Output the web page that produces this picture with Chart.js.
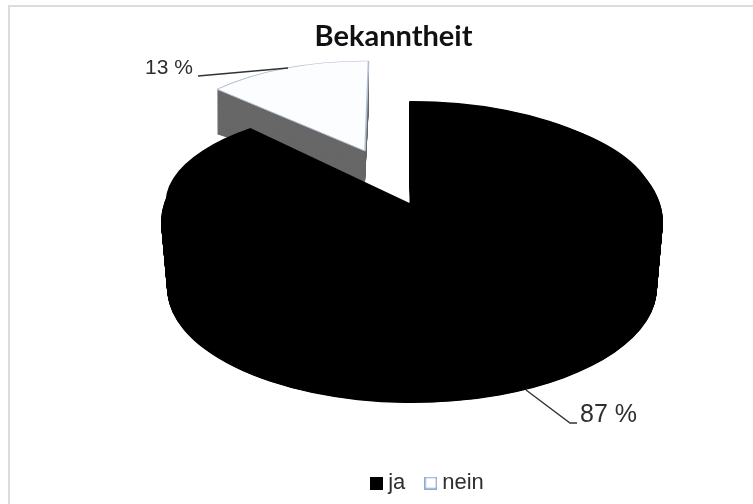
<!DOCTYPE html>
<html>
<head>
<meta charset="utf-8">
<style>
html,body{margin:0;padding:0;background:#fff;width:753px;height:504px;overflow:hidden}
#frame{position:absolute;left:8px;top:5px;right:0;bottom:0;border-left:2px solid #dcdcdc;border-top:2px solid #dcdcdc}
canvas{position:absolute;left:0;top:0}
</style>
<script src="https://cdn.jsdelivr.net/npm/chart.js@4/dist/chart.umd.min.js"></script>
</head>
<body>
<div id="frame"></div>
<canvas id="c" width="753" height="504"></canvas>
<script>
const categories = ['ja', 'nein'];
const shares = [87, 13];
const chartTitle = 'Bekanntheit';
const sliceFill = ['#000000', '#fcfdfe'];
const sliceEdge = ['#000000', '#b3bfd3'];
const neinSide = '#686868';
const legendEdge = '#8fa9cf';
const textColor = '#2e2e2e';

// Look of the tilted pie: the reference has perspective, so the top and bottom
// outlines of the main slice are different ellipses and the apex sits above their centre.
const view = {
  radius: 250,
  mainTop: { x: 412, y: 222, sx: 1.004, sy: 0.484 },
  mainBottom: { x: 412, y: 288, sx: 0.98, sy: 0.46 },
  mainTilt: -0.6,
  mainApex: { y: 203, sx: 0.976, sy: 0.396 },
  // detached slice sits further back, so it is drawn a little smaller
  nein: { x: 365, y: 151, sx: 0.813, sy: 0.36, tilt: -6, sideDepth: 31, sideSy: 0.278 }
};
// Leader lines: from the slice to the label.
const leaders = [
  { points: [[526, 390], [570, 423], [577, 423]], textX: 580, textY: 415, size: 25 },
  { points: [[288, 68], [198, 76]], textX: 145, textY: 68, size: 21 }
];

function swatch(fill, edge) {
  const s = document.createElement('canvas');
  s.width = 13; s.height = 13;
  const g = s.getContext('2d');
  g.fillStyle = fill; g.fillRect(0, 0, 13, 13);
  if (edge) { g.strokeStyle = edge; g.lineWidth = 1.5; g.strokeRect(0.75, 0.75, 11.5, 11.5); }
  return s;
}
const swatches = [swatch(sliceFill[0]), swatch('#fff', legendEdge)];

const tiltedPie = {
  id: 'tiltedPie',
  afterLayout(chart) {
    chart.titleBlock.left -= 16; chart.titleBlock.right -= 16;
    chart.legend.left += 20.5; chart.legend.right += 20.5;
  },
  beforeDatasetsDraw(chart) {
    const ctx = chart.ctx;
    const [ja, nein] = chart.getDatasetMeta(0).data;
    const n = view.nein;
    const base = nein.options;
    const sideStyle = Object.assign({}, base, { backgroundColor: neinSide, borderWidth: 0 });

    // detached slice: side wall, then top face
    const steps = n.sideDepth * 3;
    for (let i = steps; i >= 0; i--) {
      const f = i / steps;
      ctx.save();
      ctx.translate(n.x, n.y + n.sideDepth * f);
      ctx.scale(n.sx, n.sy + (n.sideSy - n.sy) * f);
      ctx.rotate(n.tilt * Math.PI / 180);
      ctx.translate(-nein.x, -nein.y);
      nein.options = i === 0 ? base : sideStyle;
      nein.draw(ctx);
      ctx.restore();
    }
    nein.options = base;

    // main slice: extruded between its bottom and top outlines
    const a = view.mainBottom, b = view.mainTop;
    const layers = (a.y - b.y) * 2;
    for (let i = 0; i <= layers; i++) {
      const f = i / layers;
      ctx.save();
      ctx.translate(a.x + (b.x - a.x) * f, a.y + (b.y - a.y) * f);
      ctx.scale(a.sx + (b.sx - a.sx) * f, a.sy + (b.sy - a.sy) * f);
      ctx.rotate(view.mainTilt * Math.PI / 180);
      ctx.translate(-ja.x, -ja.y);
      ja.draw(ctx);
      ctx.restore();
    }
    // apex of the top face
    ctx.save();
    ctx.translate(ja.x, view.mainApex.y);
    ctx.scale(view.mainApex.sx, view.mainApex.sy);
    ctx.translate(-ja.x, -ja.y);
    ja.draw(ctx);
    ctx.restore();
    return false;
  },
  afterDraw(chart) {
    const ctx = chart.ctx;
    ctx.save();
    ctx.strokeStyle = '#333';
    ctx.lineWidth = 1.4;
    ctx.fillStyle = textColor;
    ctx.textBaseline = 'middle';
    ctx.textAlign = 'left';
    leaders.forEach((l, i) => {
      ctx.beginPath();
      l.points.forEach((p, j) => j ? ctx.lineTo(p[0], p[1]) : ctx.moveTo(p[0], p[1]));
      ctx.stroke();
      ctx.font = l.size + 'px "Liberation Sans"';
      ctx.fillText(shares[i] + ' %', l.textX, l.textY);
    });
    ctx.restore();
  }
};

new Chart(document.getElementById('c'), {
  type: 'pie',
  data: {
    labels: categories,
    datasets: [{
      data: shares,
      backgroundColor: sliceFill,
      borderColor: sliceEdge,
      borderWidth: [0, 2]
    }]
  },
  options: {
    responsive: false,
    animation: false,
    // 367 instead of 360: the reference's perspective opens the gap wider than a flat ellipse would
    circumference: 367,
    radius: view.radius,
    layout: { padding: { left: 66 } },
    plugins: {
      tooltip: { enabled: false },
      title: {
        display: true,
        text: chartTitle,
        color: '#111',
        font: { family: 'Lato', size: 29, weight: 'bold' },
        padding: { top: 19, bottom: 4 }
      },
      legend: {
        position: 'bottom',
        labels: {
          color: textColor,
          font: { family: '"Liberation Sans"', size: 22 },
          usePointStyle: true,
          boxWidth: 1,
          boxHeight: 13,
          padding: 25,
          generateLabels(chart) {
            return categories.map((name, i) => ({
              text: name, fontColor: textColor, pointStyle: swatches[i], index: i,
              lineWidth: 0, hidden: false
            }));
          }
        }
      }
    }
  },
  plugins: [tiltedPie]
});
</script>
</body>
</html>
